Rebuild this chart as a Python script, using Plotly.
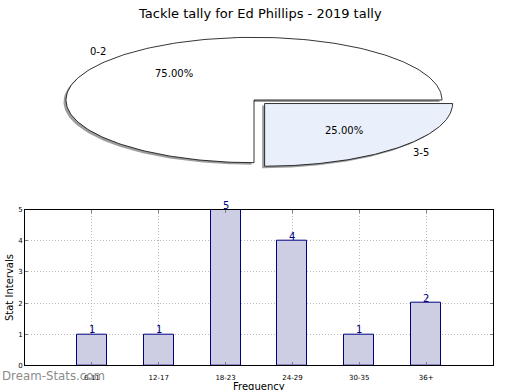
import numpy as np
import plotly.graph_objects as go

# ---------------- data ----------------
title_text = "Tackle tally for Ed Phillips - 2019 tally"
pie_labels = ["0-2", "3-5"]
pie_values = [3, 1]
pie_colors = ["#ffffff", "#eaf0fb"]
pie_explode = [0.0, 0.08]

bar_categories = ["6-11", "12-17", "18-23", "24-29", "30-35", "36+"]
bar_values = [1, 1, 5, 4, 1, 2]
y_ticks = [0, 1, 2, 3, 4, 5]

W, H = 520, 390
FONT = "DejaVu Sans"

# ---------------- pie geometry (axis scaling makes circle an ellipse) ----------------
cx, cy, rx, ry = 254, 98, 188, 64
x0p, x1p = 30, 490
y0p, y1p = 22, 190
xr = [(x0p - cx) / rx, (x1p - cx) / rx]
yr = [(cy - y1p) / ry, (cy - y0p) / ry]

fig = go.Figure()

total = float(sum(pie_values))
fracs = [v / total for v in pie_values]
starts = np.concatenate([[0.0], np.cumsum(fracs)[:-1]]) * 360.0
ends = np.cumsum(fracs) * 360.0

sdx, sdy = -2.5 / rx, -2.0 / ry
wedges = []
for lab, f, t1, t2, col, ex in zip(pie_labels, fracs, starts, ends, pie_colors, pie_explode):
    mid = np.deg2rad((t1 + t2) / 2)
    ox, oy = ex * np.cos(mid), ex * np.sin(mid)
    th = np.deg2rad(np.linspace(t1, t2, 200))
    xs = np.concatenate([[0], np.cos(th), [0]]) + ox
    ys = np.concatenate([[0], np.sin(th), [0]]) + oy
    wedges.append((lab, f, mid, ox, oy, xs, ys, col))

# shadows
for lab, f, mid, ox, oy, xs, ys, col in wedges:
    fig.add_trace(go.Scatter(x=xs + sdx, y=ys + sdy, mode="lines", fill="toself",
                             fillcolor="rgba(0,0,0,0.38)", line=dict(width=0),
                             xaxis="x2", yaxis="y2", hoverinfo="skip", showlegend=False))
# wedges
for lab, f, mid, ox, oy, xs, ys, col in wedges:
    fig.add_trace(go.Scatter(x=xs, y=ys, mode="lines", fill="toself",
                             fillcolor=col, line=dict(color="black", width=0.8),
                             xaxis="x2", yaxis="y2", hoverinfo="skip", showlegend=False))

annotations = []
for lab, f, mid, ox, oy, xs, ys, col in wedges:
    lx, ly = 1.1 * np.cos(mid) + ox, 1.1 * np.sin(mid) + oy
    annotations.append(dict(x=lx, y=ly, xref="x2", yref="y2", text=lab, showarrow=False,
                            xanchor="right" if lx < ox else "left", yanchor="middle",
                            font=dict(family=FONT, size=10, color="black")))
    px, py = 0.6 * np.cos(mid) + ox, 0.6 * np.sin(mid) + oy
    annotations.append(dict(x=px, y=py, xref="x2", yref="y2", text=f"{f*100:.2f}%",
                            showarrow=False, xanchor="center", yanchor="middle",
                            font=dict(family=FONT, size=10, color="black")))

# ---------------- bar chart ----------------
fig.add_trace(go.Bar(x=bar_categories, y=bar_values, width=0.45,
                     marker=dict(color="#cdcde3", line=dict(color="#000080", width=1)),
                     hoverinfo="skip", showlegend=False))

for c, v in zip(bar_categories, bar_values):
    annotations.append(dict(x=c, y=v, xref="x", yref="y", text=str(v), showarrow=False,
                            xanchor="center", yanchor="bottom", yshift=-3,
                            font=dict(family=FONT, size=10, color="#000080")))

annotations.append(dict(x=9 / W, y=1 - 290 / H, xref="paper", yref="paper", text="Stat Intervals",
                        textangle=-90, showarrow=False, xanchor="center", yanchor="middle",
                        font=dict(family=FONT, size=10, color="black")))
annotations.append(dict(x=259 / W, y=1 - 383 / H, xref="paper", yref="paper", text="Frequency",
                        showarrow=False, xanchor="center", yanchor="top",
                        font=dict(family=FONT, size=10, color="black")))
annotations.append(dict(x=0, y=1 - 380 / H, xref="paper", yref="paper", text="Dream-Stats.com",
                        showarrow=False, xanchor="left", yanchor="middle",
                        font=dict(family="DejaVu Sans", size=11.8, color="#8c8c8c")))
annotations.append(dict(x=0.5, y=1 - 10 / H, xref="paper", yref="paper", text=title_text,
                        showarrow=False, xanchor="center", yanchor="middle",
                        font=dict(family=FONT, size=13, color="black")))

grid_common = dict(showline=True, linecolor="black", linewidth=1, mirror="ticks",
                   ticks="inside", ticklen=3, tickcolor="#808080",
                   showgrid=True, gridcolor="#b8b8b8", griddash="1px,2px", gridwidth=1,
                   tickfont=dict(family=FONT, size=7, color="black"), layer="above traces",
                   fixedrange=True, zeroline=False)

fig.update_layout(
    width=W, height=H, margin=dict(l=0, r=0, t=0, b=0),
    paper_bgcolor="white", plot_bgcolor="white",
    showlegend=False, bargap=0,
    annotations=annotations,
    xaxis=dict(domain=[25 / W, 493 / W], range=[-1, 6], type="category", anchor="y",
               ticklabelstandoff=5, **grid_common),
    yaxis=dict(domain=[1 - 369 / H, 1 - 210 / H], range=[0, 5], tickvals=y_ticks, anchor="x", **grid_common),
    xaxis2=dict(domain=[x0p / W, x1p / W], range=xr, visible=False, fixedrange=True, anchor="y2"),
    yaxis2=dict(domain=[1 - y1p / H, 1 - y0p / H], range=yr, visible=False, fixedrange=True, anchor="x2"),
)

fig.write_html("out.html", config={"displayModeBar": False},
               post_script="document.body.style.margin='0';document.body.style.overflow='hidden';")
